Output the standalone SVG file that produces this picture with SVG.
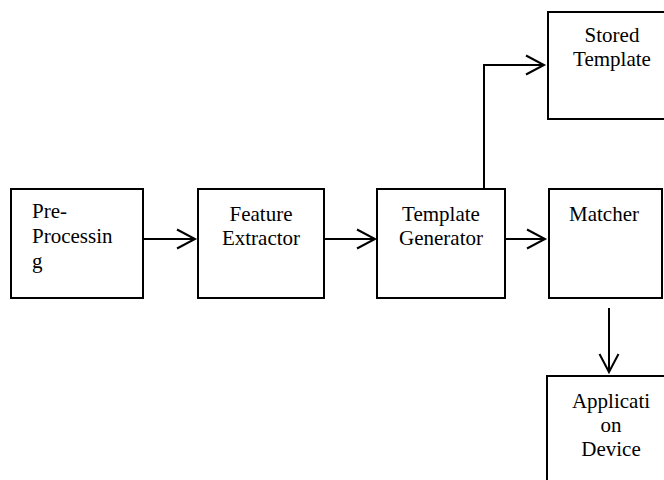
<svg xmlns="http://www.w3.org/2000/svg" width="664" height="480" viewBox="0 0 664 480">
<style>
.box{fill:#fff;stroke:#000;stroke-width:2}
text{font-family:'Liberation Serif','DejaVu Serif',serif;font-size:21px;fill:#000}
.c{text-anchor:middle}
.conn{fill:none;stroke:#000;stroke-width:2}
</style>
<defs>
<marker id="arr" markerUnits="userSpaceOnUse" markerWidth="22" markerHeight="22" refX="18" refY="10" orient="auto" overflow="visible">
<path d="M0,0.5 L18,10 L0,19.5" fill="none" stroke="#000" stroke-width="2"/>
</marker>
</defs>
<rect width="664" height="480" fill="#fff"/>
<g id="preprocessing" font-family="Liberation Serif, serif">
<rect class="box" x="11" y="189" width="132" height="109"/>
<text x="32" y="218">Pre-</text>
<text x="32" y="243">Processin</text>
<text x="32" y="268">g</text>
</g>
<g id="feature-extractor" font-family="Liberation Serif, serif">
<rect class="box" x="198" y="189" width="126" height="109"/>
<text class="c" x="261" y="221">Feature</text>
<text class="c" x="261" y="245">Extractor</text>
</g>
<g id="template-generator" font-family="Liberation Serif, serif">
<rect class="box" x="377" y="189" width="128" height="109"/>
<text class="c" x="441" y="221">Template</text>
<text class="c" x="441" y="245">Generator</text>
</g>
<g id="matcher" font-family="Liberation Serif, serif">
<rect class="box" x="549" y="189" width="113" height="109"/>
<text class="c" x="604" y="221">Matcher</text>
</g>
<g id="stored-template" font-family="Liberation Serif, serif">
<rect class="box" x="548" y="12" width="130" height="107"/>
<text class="c" x="612" y="42">Stored</text>
<text class="c" x="612" y="66">Template</text>
</g>
<g id="application-device" font-family="Liberation Serif, serif">
<rect class="box" x="547" y="376" width="130" height="120"/>
<text class="c" x="611" y="408">Applicati</text>
<text class="c" x="611" y="432">on</text>
<text class="c" x="611" y="456">Device</text>
</g>
<g id="connectors">
<line class="conn" x1="143" y1="239" x2="195" y2="239" marker-end="url(#arr)"/>
<line class="conn" x1="324" y1="239" x2="375" y2="239" marker-end="url(#arr)"/>
<line class="conn" x1="505" y1="239" x2="545" y2="239" marker-end="url(#arr)"/>
<polyline class="conn" points="484,189 484,65 544,65" marker-end="url(#arr)"/>
<line class="conn" x1="609" y1="308" x2="609" y2="372" marker-end="url(#arr)"/>
</g>
</svg>
